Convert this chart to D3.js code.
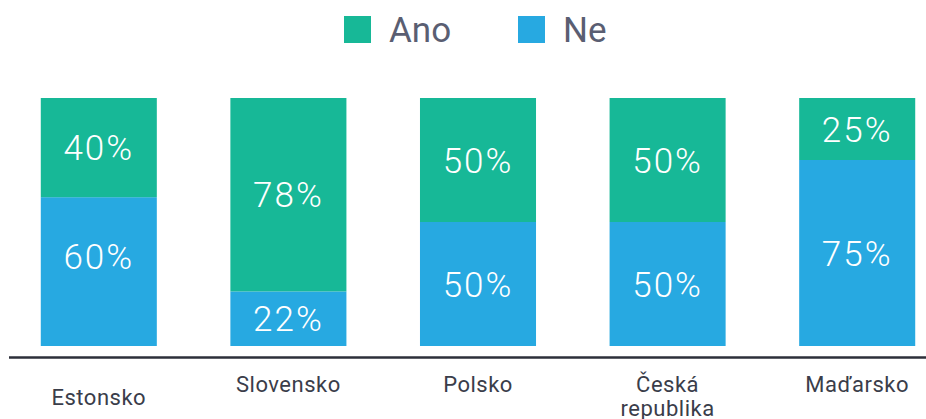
<!DOCTYPE html>
<html>
<head>
<meta charset="utf-8">
<script src="https://cdn.jsdelivr.net/npm/d3@7"></script>
<style>
  body { margin: 0; background: #fff; }
  svg { display: block; font-family: Roboto, "Noto Sans", sans-serif; }
</style>
</head>
<body>
<div id="chart"></div>
<script>
// data
var countries = ["Estonsko", "Slovensko", "Polsko", "Česká republika", "Maďarsko"];
var ano = [40, 78, 50, 50, 25];
var ne = [60, 22, 50, 50, 75];
var seriesNames = ["Ano", "Ne"];
var colors = ["#17b897", "#27a9e1"];

var width = 926, height = 419;

var svg = d3.select("#chart")
  .append("svg")
    .attr("width", width)
    .attr("height", height);

var rows = countries.map(function(c, i) {
  return {name: c, Ano: ano[i], Ne: ne[i]};
});

// stack Ne at the bottom, Ano on top
var stack = d3.stack().keys(["Ne", "Ano"]);
var series = stack(rows);

var x = d3.scaleBand()
  .domain(countries)
  .range([4, 952])
  .paddingInner(0.388)
  .paddingOuter(0.194);

var y = d3.scaleLinear()
  .domain([0, 100])
  .range([346, 98]);

var color = d3.scaleOrdinal()
  .domain(seriesNames)
  .range(colors);

// bars
var layer = svg.append("g")
  .selectAll("g")
  .data(series)
  .enter().append("g")
    .attr("fill", function(d) { return color(d.key); });

layer.selectAll("rect")
  .data(function(d) { return d.map(function(p) { p.key = d.key; return p; }); })
  .enter().append("rect")
    .attr("x", function(d) { return x(d.data.name); })
    .attr("y", function(d) { return y(d[1]); })
    .attr("width", x.bandwidth())
    .attr("height", function(d) { return y(d[0]) - y(d[1]); });

// value labels (the first Ne label sits a bit higher in the original)
layer.selectAll("text")
  .data(function(d) { return d; })
  .enter().append("text")
    .attr("x", function(d) { return x(d.data.name) + x.bandwidth() / 2; })
    .attr("y", function(d, i) {
      var mid = (y(d[0]) + y(d[1])) / 2;
      return (d.key == "Ne" && i == 0) ? mid - 15 : mid;
    })
    .attr("dy", "0.36em")
    .attr("text-anchor", "middle")
    .attr("fill", "#fff")
    .attr("font-size", "35px")
    .attr("font-weight", 300)
    .attr("letter-spacing", "2px")
    .text(function(d) { return d.data[d.key] + "%"; });

// baseline
svg.append("line")
  .attr("x1", 9).attr("x2", width)
  .attr("y1", 357.5).attr("y2", 357.5)
  .attr("stroke", "#2d2f3a")
  .attr("stroke-width", 2.5);

// category labels (wrapped on space for long names)
var labels = svg.append("g")
  .selectAll("text")
  .data(countries)
  .enter().append("text")
    .attr("text-anchor", "middle")
    .attr("fill", "#3a3d4a")
    .attr("font-size", "22px")
    .attr("letter-spacing", "0.5px")
    .attr("x", function(d) { return x(d) + x.bandwidth() / 2; })
    .attr("y", function(d, i) { return i == 0 ? 405 : 392; });

labels.each(function(d) {
  var words = d.split(" ");
  var t = d3.select(this);
  var cx = t.attr("x");
  words.forEach(function(w, k) {
    t.append("tspan")
      .attr("x", cx)
      .attr("dy", k == 0 ? 0 : 24)
      .text(w);
  });
});

// legend
var legendX = [344, 518];
var legend = svg.append("g")
  .selectAll("g")
  .data(seriesNames)
  .enter().append("g")
    .attr("transform", function(d, i) { return "translate(" + legendX[i] + ",16)"; });

legend.append("rect")
  .attr("width", 27)
  .attr("height", 27)
  .attr("fill", function(d) { return color(d); });

legend.append("text")
  .attr("x", 45)
  .attr("y", 26)
  .attr("font-size", "35px")
  .attr("fill", "#5a5e72")
  .text(function(d) { return d; });
</script>
</body>
</html>
